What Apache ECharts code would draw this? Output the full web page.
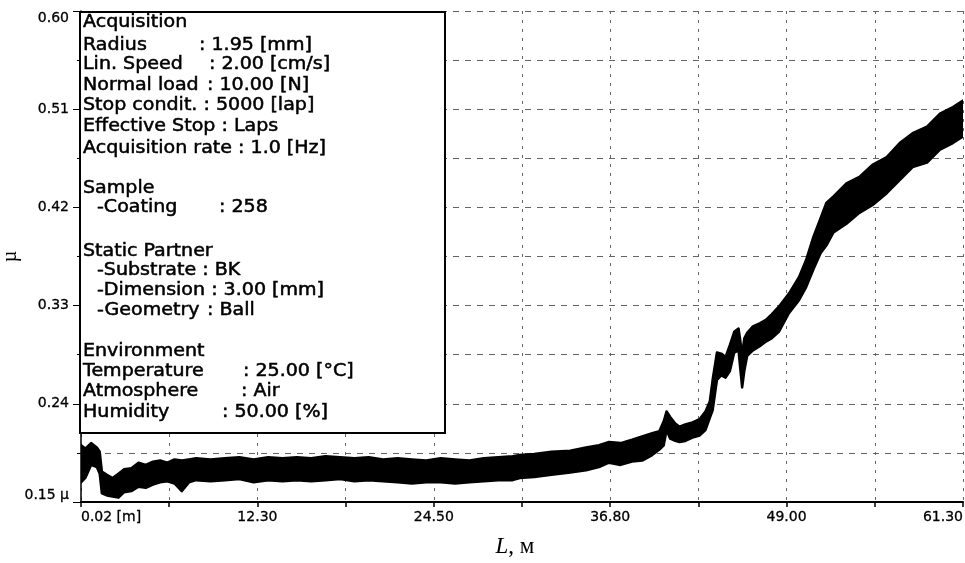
<!DOCTYPE html>
<html>
<head>
<meta charset="utf-8">
<script src="https://cdn.jsdelivr.net/npm/echarts@6/dist/echarts.min.js"></script>
<style>
  html, body { margin: 0; padding: 0; background: #fff; }
  #main { width: 965px; height: 563px; }
</style>
</head>
<body>
<div id="main"></div>
<script>
// sliding distance, m
var distL = [0, 0.3, 0.7, 1.1, 1.3, 1.45, 1.8, 2.2, 2.6, 3.0, 3.5, 4.0, 4.5, 5.0, 5.5, 6.0, 6.5, 7.0, 7.5, 8,
  9, 10, 11, 12, 13, 14, 15, 16, 17, 18, 19, 20, 21, 22, 23, 24, 25, 26, 27, 28, 29, 30,
  30.5, 31.5, 32.7, 34, 35.1, 36, 36.7, 37.5, 38.3, 39, 39.7, 40.2, 40.5, 40.7, 40.95, 41.3, 41.6, 42, 42.5, 43, 43.4,
  43.7, 43.9, 44.2, 44.5, 44.8, 45.1, 45.4, 45.7, 45.8, 45.95, 46.1, 46.3, 46.7, 47.2, 47.6, 48.0, 48.5, 49.2, 49.9,
  50.4, 50.9, 51.4, 51.8, 52.3, 53.2, 54.1, 55.0, 56.0, 56.9, 57.8, 58.8, 59.7, 60.6, 61.3];
// upper edge of the noisy friction trace
var muHigh = [0.202, 0.199, 0.204, 0.200, 0.196, 0.178, 0.175, 0.172, 0.176, 0.180, 0.181, 0.186, 0.184, 0.187, 0.188, 0.186, 0.189, 0.188, 0.189, 0.190,
  0.189, 0.190, 0.191, 0.189, 0.191, 0.190, 0.191, 0.190, 0.192, 0.191, 0.190, 0.191, 0.189, 0.190, 0.189, 0.188, 0.190, 0.189, 0.188, 0.190, 0.191, 0.192,
  0.193, 0.194, 0.196, 0.197, 0.200, 0.202, 0.205, 0.204, 0.207, 0.210, 0.213, 0.215, 0.224, 0.233, 0.228, 0.222, 0.219, 0.221, 0.223, 0.226, 0.233,
  0.242, 0.262, 0.287, 0.286, 0.283, 0.294, 0.306, 0.309, 0.300, 0.285, 0.300, 0.305, 0.311, 0.314, 0.317, 0.322, 0.329, 0.341, 0.356,
  0.372, 0.393, 0.410, 0.424, 0.430, 0.442, 0.448, 0.459, 0.466, 0.479, 0.488, 0.494, 0.506, 0.512, 0.518];
// lower edge of the noisy friction trace
var muLow = [0.168, 0.172, 0.184, 0.182, 0.176, 0.158, 0.156, 0.155, 0.154, 0.159, 0.160, 0.164, 0.163, 0.166, 0.168, 0.169, 0.167, 0.160, 0.168, 0.170,
  0.169, 0.170, 0.171, 0.168, 0.170, 0.169, 0.170, 0.169, 0.170, 0.171, 0.169, 0.170, 0.169, 0.168, 0.167, 0.168, 0.168, 0.167, 0.168, 0.169, 0.170, 0.170,
  0.172, 0.173, 0.175, 0.177, 0.179, 0.182, 0.186, 0.184, 0.187, 0.188, 0.193, 0.198, 0.202, 0.216, 0.208, 0.206, 0.205, 0.206, 0.209, 0.211, 0.216,
  0.227, 0.234, 0.262, 0.266, 0.264, 0.270, 0.287, 0.289, 0.275, 0.255, 0.270, 0.284, 0.289, 0.293, 0.297, 0.300, 0.306, 0.323, 0.335,
  0.347, 0.363, 0.378, 0.385, 0.397, 0.405, 0.415, 0.422, 0.433, 0.445, 0.457, 0.461, 0.473, 0.479, 0.485];

var xLabels = ['0.02 [m]', '12.30', '24.50', '36.80', '49.00', '61.30'];
var yLabels = ['0.15 \u00b5', '0.24', '0.33', '0.42', '0.51', '0.60'];

var infoKeys = ['Acquisition', 'Radius', 'Lin. Speed', 'Normal load', 'Stop condit.', 'Effective Stop', 'Acquisition rate',
  'Sample', '-Coating', 'Static Partner', '-Substrate', '-Dimension', '-Geometry',
  'Environment', 'Temperature', 'Atmosphere', 'Humidity'];
var infoValues = ['', ': 1.95 [mm]', ': 2.00 [cm/s]', ': 10.00 [N]', ': 5000 [lap]', ': Laps', ': 1.0 [Hz]',
  '', ': 258', '', ': BK', ': 3.00 [mm]', ': Ball',
  '', ': 25.00 [\u00b0C]', ': Air', ': 50.00 [%]'];

// where each line of the info box sits
var infoY = [23, 46, 65, 86, 106, 127, 149, 189, 208, 252, 271, 291, 311, 352, 372, 392, 413];
var infoKeyX = [83, 83, 83, 83, 83, 83, 83, 83, 97, 83, 97, 97, 97, 83, 83, 83, 83];
var infoValueX = [0, 199, 209, 207, 0, 0, 0, 0, 219, 0, 0, 0, 207, 0, 243, 241, 222];

var xStep = 6.13, yMin = 0.15, yStep = 0.09;

var chart = echarts.init(document.getElementById('main'));

var infoFont = '17px "DejaVu Sans"';
var graphics = [{
  type: 'rect',
  z: 100,
  shape: { x: 80, y: 12, width: 365, height: 421 },
  style: { fill: '#fff', stroke: '#000', lineWidth: 2 }
}];
for (var i = 0; i < infoKeys.length; i++) {
  var inline = infoValueX[i] === 0;
  graphics.push({
    type: 'text', z: 101, x: infoKeyX[i], y: infoY[i], scaleX: 1.12,
    style: {
      text: inline && infoValues[i] ? infoKeys[i] + ' ' + infoValues[i] : infoKeys[i],
      font: infoFont, fill: '#000', stroke: '#000', lineWidth: 0.5, verticalAlign: 'middle'
    }
  });
  if (!inline) {
    graphics.push({
      type: 'text', z: 101, x: infoValueX[i], y: infoY[i], scaleX: 1.12,
      style: { text: infoValues[i], font: infoFont, fill: '#000', stroke: '#000', lineWidth: 0.5, verticalAlign: 'middle' }
    });
  }
}

var option = {
  animation: false,
  backgroundColor: '#fff',
  grid: { left: 81, right: 2, top: 11, bottom: 61, containLabel: false, outerBoundsMode: 'none' },
  xAxis: {
    type: 'value',
    min: 0,
    max: 61.3,
    interval: xStep,
    name: '{i|L}{n|, \u043c}',
    nameLocation: 'middle',
    nameGap: 33,
    nameMoveOverlap: false,
    nameTextStyle: {
      padding: [0, 14, 0, 0],
      rich: {
        i: { fontFamily: 'Liberation Serif', fontStyle: 'italic', fontSize: 23, color: '#000' },
        n: { fontFamily: 'Liberation Serif', fontSize: 23, color: '#000' }
      }
    },
    axisLine: { onZero: false, lineStyle: { color: '#000', width: 2 } },
    axisTick: { length: 5, lineStyle: { color: '#000', width: 1.5 } },
    axisLabel: {
      margin: 8,
      fontFamily: 'DejaVu Sans',
      fontSize: 14,
      color: '#000',
      textBorderColor: '#000',
      textBorderWidth: 0.3,
      alignMinLabel: 'left',
      alignMaxLabel: 'right',
      formatter: function (v) {
        var k = Math.round(v / xStep);
        return k % 2 === 0 ? xLabels[k / 2] : '';
      }
    },
    splitLine: { show: true, lineStyle: { color: '#666', type: [3, 6], width: 1 } }
  },
  yAxis: {
    type: 'value',
    min: yMin,
    max: 0.60,
    interval: yStep,
    name: '\u00b5',
    nameLocation: 'middle',
    nameGap: 60,
    nameMoveOverlap: false,
    nameTextStyle: { fontFamily: 'Liberation Serif', fontSize: 20, color: '#000' },
    axisLine: { show: true, lineStyle: { color: '#000', width: 1.5 } },
    axisTick: { show: true, length: 8, lineStyle: { color: '#000' } },
    minorTick: { show: true, splitNumber: 2, length: 4, lineStyle: { color: '#000' } },
    axisLabel: {
      margin: 12,
      fontFamily: 'DejaVu Sans',
      fontSize: 14,
      color: '#000',
      textBorderColor: '#000',
      textBorderWidth: 0.3,
      verticalAlignMinLabel: 'bottom',
      verticalAlignMaxLabel: 'top',
      formatter: function (v) {
        var k = Math.round((v - yMin) / yStep);
        return yLabels[k] || '';
      }
    },
    splitLine: { show: true, lineStyle: { color: '#666', type: [6, 6], width: 1 } },
    minorSplitLine: { show: true, lineStyle: { color: '#666', type: [6, 6], width: 1 } }
  },
  series: [{
    type: 'custom',
    coordinateSystem: 'cartesian2d',
    clip: true,
    data: distL.map(function (l, i) { return [l, muLow[i], muHigh[i]]; }),
    encode: { x: 0, y: [1, 2] },
    renderItem: function (params, api) {
      if (params.dataIndex !== 0) return null;
      var pts = [];
      for (var j = 0; j < distL.length; j++) pts.push(api.coord([distL[j], muHigh[j]]));
      for (var j = distL.length - 1; j >= 0; j--) pts.push(api.coord([distL[j], muLow[j]]));
      return {
        type: 'polygon',
        shape: { points: pts },
        style: { fill: '#000', stroke: '#000', lineWidth: 2.5, lineJoin: 'round' }
      };
    }
  }],
  graphic: graphics
};

chart.setOption(option);
</script>
</body>
</html>
